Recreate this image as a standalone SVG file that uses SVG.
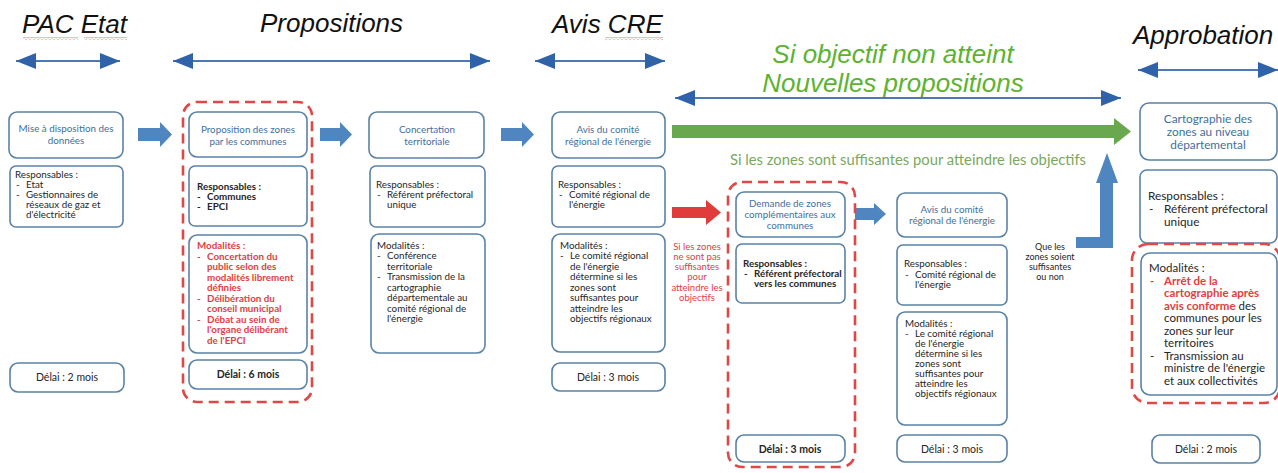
<svg xmlns="http://www.w3.org/2000/svg" width="1278" height="473" viewBox="0 0 1278 473">
<defs>
<style>
.box{fill:#fff;stroke:#5a82a6;stroke-width:1.6}
.dash{fill:none;stroke:#e04848;stroke-width:2.6;stroke-dasharray:10 6}
.t{font-family:Lato,"Open Sans",sans-serif;fill:#3f6f9c;text-anchor:middle;font-size:9.8px}
.b{font-family:Lato,"Open Sans",sans-serif;fill:#262626;font-size:9.8px}
.bc{font-family:Lato,"Open Sans",sans-serif;fill:#262626;font-size:10.5px;text-anchor:middle}
.bold{font-weight:bold}
.red{fill:#e2403f;font-weight:bold}
.big{font-size:11.8px}
.mid{font-size:11.5px}
.hd{font-family:"Liberation Sans",Arial,sans-serif;font-style:italic;font-size:26px;fill:#111}
.gh{font-family:"Liberation Sans",Arial,sans-serif;font-style:italic;font-size:26px;fill:#5db32e;text-anchor:middle}
.dbl{stroke:#4a78b8;stroke-width:2;fill:none;marker-start:url(#ah);marker-end:url(#ah)}
.blk{fill:#4f86c0}
</style>
<marker id="ah" viewBox="0 0 20 16" refX="20" refY="8" markerWidth="20" markerHeight="16" markerUnits="userSpaceOnUse" orient="auto-start-reverse">
<path d="M0,0 L20,8 L0,16 z" fill="#2f62a8"/>
</marker>
<pattern id="wave" width="4" height="3" patternUnits="userSpaceOnUse">
<path d="M0,2.5 L2,0.5 L4,2.5" stroke="#d04040" stroke-width="0.7" fill="none"/>
</pattern>
</defs>
<rect width="1278" height="473" fill="#fff"/>

<!-- headers -->
<g id="headers">
<text class="hd" x="22" y="33">PAC Etat</text>
<rect x="23" y="37" width="55" height="3" fill="url(#wave)"/>
<rect x="84" y="37" width="43" height="3" fill="url(#wave)"/>
<text class="hd" x="260" y="32">Propositions</text>
<text class="hd" x="552" y="33">Avis CRE</text>
<rect x="605" y="37" width="58" height="3" fill="url(#wave)"/>
<text class="hd" x="1133" y="44">Approbation</text>
<text class="gh" x="893" y="63">Si objectif non atteint</text>
<text class="gh" x="893" y="92">Nouvelles propositions</text>
</g>

<g id="connectors">
<line class="dbl" x1="16" y1="61" x2="120" y2="61"/>
<line class="dbl" x1="173" y1="61" x2="490" y2="61"/>
<line class="dbl" x1="535" y1="61" x2="665" y2="61"/>
<line class="dbl" x1="1138" y1="70" x2="1278" y2="70"/>
<line class="dbl" x1="675" y1="98" x2="1121" y2="98"/>
<polygon class="blk" points="138,128 160,128 160,122 172,134.5 160,147 160,141 138,141"/>
<polygon class="blk" points="320,128 340,128 340,122 352,134.5 340,147 340,141 320,141"/>
<polygon class="blk" points="501,128 522,128 522,122 534,134.5 522,147 522,141 501,141"/>
<polygon class="blk" points="855,208 874,208 874,203 886,214 874,225 874,220 855,220"/>
<polygon fill="#e03c3c" points="672,207 706,207 706,200 721,212.5 706,225 706,218 672,218"/>
<polygon fill="#6aa84f" points="672,125 1114,125 1114,118 1131,131.5 1114,145 1114,138 672,138"/>
<polygon class="blk" points="1076,237 1100,237 1100,183 1096,183 1107,153 1118,183 1113,183 1113,248 1076,248"/>
<text x="908" y="165" font-family="Lato,'Open Sans',sans-serif" font-size="14.8" fill="#7aa860" text-anchor="middle">Si les zones sont suffisantes pour atteindre les objectifs</text>
<g font-family="Lato,'Open Sans',sans-serif" font-size="9.5" fill="#e2403f" text-anchor="middle">
<text x="697" y="250">Si les zones</text>
<text x="697" y="260">ne sont pas</text>
<text x="697" y="270">suffisantes</text>
<text x="697" y="280">pour</text>
<text x="697" y="291">atteindre les</text>
<text x="697" y="301">objectifs</text>
</g>
<g font-family="Lato,'Open Sans',sans-serif" font-size="9" fill="#262626" text-anchor="middle">
<text x="1050" y="250">Que les</text>
<text x="1050" y="260">zones soient</text>
<text x="1050" y="270">suffisantes</text>
<text x="1050" y="280">ou non</text>
</g>
</g>

<!-- Column 1 -->
<g id="n1">
<rect class="box" x="9" y="112" width="114" height="46" rx="8"/>
<text class="t" x="66" y="132">Mise à disposition des</text>
<text class="t" x="66" y="144">données</text>
<rect class="box" x="10" y="166" width="113" height="61" rx="6"/>
<text class="b" x="15" y="178">Responsables :</text>
<text class="b" x="16" y="188">-</text><text class="b" x="26" y="188">Etat</text>
<text class="b" x="16" y="198">-</text><text class="b" x="26" y="198">Gestionnaires de</text>
<text class="b" x="26" y="208">réseaux de gaz et</text>
<text class="b" x="26" y="218">d'électricité</text>
<rect class="box" x="10" y="363" width="114" height="29" rx="8"/>
<text class="bc" x="67" y="381">Délai : 2 mois</text>
</g>

<!-- Column 2 -->
<g id="n2">
<rect class="dash" x="183" y="102" width="129" height="300" rx="14"/>
<rect class="box" x="189" y="112" width="118" height="45" rx="8"/>
<text class="t" x="248" y="133">Proposition des zones</text>
<text class="t" x="248" y="145">par les communes</text>
<rect class="box" x="189" y="166" width="118" height="60" rx="6"/>
<text class="b bold" x="197" y="190">Responsables :</text>
<text class="b bold" x="197" y="200">-</text><text class="b bold" x="207" y="200">Communes</text>
<text class="b bold" x="197" y="210">-</text><text class="b bold" x="207" y="210">EPCI</text>
<rect class="box" x="189" y="235" width="118" height="118" rx="8"/>
<g class="b red">
<text x="197" y="249">Modalités :</text>
<text x="197" y="260">-</text><text x="207" y="260">Concertation du</text>
<text x="207" y="270">public selon des</text>
<text x="207" y="281">modalités librement</text>
<text x="207" y="291">définies</text>
<text x="197" y="302">-</text><text x="207" y="302">Délibération du</text>
<text x="207" y="312">conseil municipal</text>
<text x="197" y="323">-</text><text x="207" y="323">Débat au sein de</text>
<text x="207" y="333">l'organe délibérant</text>
<text x="207" y="344">de l'EPCI</text>
</g>
<rect class="box" x="189" y="360" width="118" height="29" rx="8"/>
<text class="bc bold" x="248" y="378">Délai : 6 mois</text>
</g>

<!-- Column 3 -->
<g id="n3">
<rect class="box" x="369" y="112" width="115" height="46" rx="8"/>
<text class="t" x="427" y="133">Concertation</text>
<text class="t" x="427" y="145">territoriale</text>
<rect class="box" x="370" y="166" width="115" height="61" rx="6"/>
<text class="b" x="376" y="188">Responsables :</text>
<text class="b" x="377" y="198">-</text><text class="b" x="387" y="198">Référent préfectoral</text>
<text class="b" x="387" y="208">unique</text>
<rect class="box" x="371" y="234" width="114" height="119" rx="8"/>
<text class="b" x="377" y="249">Modalités :</text>
<text class="b" x="377" y="259">-</text><text class="b" x="387" y="259">Conférence</text>
<text class="b" x="387" y="270">territoriale</text>
<text class="b" x="377" y="280">-</text><text class="b" x="387" y="280">Transmission de la</text>
<text class="b" x="387" y="291">cartographie</text>
<text class="b" x="387" y="301">départementale au</text>
<text class="b" x="387" y="312">comité régional de</text>
<text class="b" x="387" y="322">l'énergie</text>
</g>

<!-- Column 4 -->
<g id="n4">
<rect class="box" x="552" y="112" width="113" height="46" rx="8"/>
<text class="t" x="608" y="133">Avis du comité</text>
<text class="t" x="608" y="145">régional de l'énergie</text>
<rect class="box" x="552" y="166" width="113" height="61" rx="6"/>
<text class="b" x="558" y="188">Responsables :</text>
<text class="b" x="559" y="198">-</text><text class="b" x="569" y="198">Comité régional de</text>
<text class="b" x="569" y="208">l'énergie</text>
<rect class="box" x="552" y="234" width="113" height="118" rx="8"/>
<text class="b" x="560" y="249">Modalités :</text>
<text class="b" x="560" y="259">-</text><text class="b" x="570" y="259">Le comité régional</text>
<text class="b" x="570" y="270">de l'énergie</text>
<text class="b" x="570" y="280">détermine si les</text>
<text class="b" x="570" y="291">zones sont</text>
<text class="b" x="570" y="301">suffisantes pour</text>
<text class="b" x="570" y="312">atteindre les</text>
<text class="b" x="570" y="322">objectifs régionaux</text>
<rect class="box" x="552" y="363" width="113" height="28" rx="8"/>
<text class="bc" x="608" y="381">Délai : 3 mois</text>
</g>

<!-- Column 5 -->
<g id="n5">
<rect class="dash" x="728" y="182" width="127" height="285" rx="14"/>
<rect class="box" x="736" y="192" width="109" height="45" rx="8"/>
<text class="t" x="790" y="207" font-size="9.5">Demande de zones</text>
<text class="t" x="790" y="218" font-size="9.5">complémentaires aux</text>
<text class="t" x="790" y="229" font-size="9.5">communes</text>
<rect class="box" x="736" y="244" width="109" height="59" rx="6"/>
<text class="b bold" x="743" y="267">Responsables :</text>
<text class="b bold" x="744" y="277">-</text><text class="b bold" x="754" y="277">Référent préfectoral</text>
<text class="b bold" x="754" y="287">vers les communes</text>
<rect class="box" x="736" y="435" width="109" height="27" rx="8"/>
<text class="bc bold" x="790" y="453">Délai : 3 mois</text>
</g>

<!-- Column 6 -->
<g id="n6">
<rect class="box" x="897" y="193" width="110" height="44" rx="8"/>
<text class="t" x="952" y="213">Avis du comité</text>
<text class="t" x="952" y="224">régional de l'énergie</text>
<rect class="box" x="897" y="245" width="110" height="60" rx="6"/>
<text class="b" x="904" y="267">Responsables :</text>
<text class="b" x="905" y="278">-</text><text class="b" x="915" y="278">Comité régional de</text>
<text class="b" x="915" y="288">l'énergie</text>
<rect class="box" x="897" y="312" width="110" height="113" rx="8"/>
<text class="b" x="905" y="327">Modalités :</text>
<text class="b" x="905" y="337">-</text><text class="b" x="915" y="337">Le comité régional</text>
<text class="b" x="915" y="347">de l'énergie</text>
<text class="b" x="915" y="357">détermine si les</text>
<text class="b" x="915" y="367">zones sont</text>
<text class="b" x="915" y="377">suffisantes pour</text>
<text class="b" x="915" y="387">atteindre les</text>
<text class="b" x="915" y="397">objectifs régionaux</text>
<rect class="box" x="897" y="435" width="110" height="27" rx="8"/>
<text class="bc" x="952" y="453">Délai : 3 mois</text>
</g>

<!-- Column 7 -->
<g id="n7">
<rect class="box" x="1140" y="103" width="137" height="57" rx="9"/>
<text class="t big" x="1208" y="123">Cartographie des</text>
<text class="t big" x="1208" y="136">zones au niveau</text>
<text class="t big" x="1208" y="149">départemental</text>
<rect class="box" x="1140" y="170" width="137" height="73" rx="7"/>
<text class="b big" x="1148" y="200">Responsables :</text>
<text class="b big" x="1149" y="213">-</text><text class="b big" x="1164" y="213">Référent préfectoral</text>
<text class="b big" x="1164" y="226">unique</text>
<rect class="dash" x="1132" y="244" width="148" height="159" rx="16"/>
<rect class="box" x="1141" y="253" width="136" height="142" rx="9"/>
<text class="b mid" x="1149" y="272">Modalités :</text>
<text class="b mid red" x="1150" y="284.5">-</text><text class="b mid red" x="1164" y="284.5">Arrêt de la</text>
<text class="b mid red" x="1164" y="297">cartographie après</text>
<text class="b mid" x="1164" y="309.5"><tspan class="red">avis conforme</tspan> des</text>
<text class="b mid" x="1164" y="322">communes pour les</text>
<text class="b mid" x="1164" y="334.5">zones sur leur</text>
<text class="b mid" x="1164" y="347">territoires</text>
<text class="b mid" x="1150" y="359.5">-</text><text class="b mid" x="1164" y="359.5">Transmission au</text>
<text class="b mid" x="1164" y="372">ministre de l'énergie</text>
<text class="b mid" x="1164" y="384.5">et aux collectivités</text>
<rect class="box" x="1152" y="435" width="108" height="28" rx="8"/>
<text class="bc" x="1206" y="453" font-size="12">Délai : 2 mois</text>
</g>
</svg>
